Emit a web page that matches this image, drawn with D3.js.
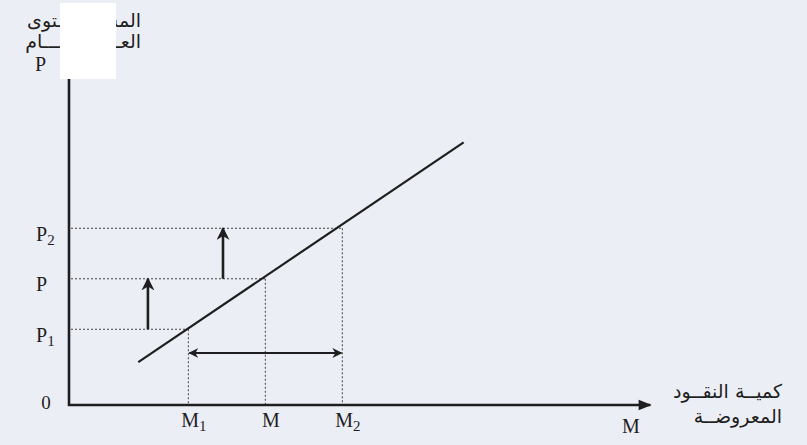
<!DOCTYPE html>
<html>
<head>
<meta charset="utf-8">
<script src="https://cdn.jsdelivr.net/npm/d3@7"></script>
<style>
  body { margin: 0; background: #eceef5; }
  svg { display: block; }
</style>
</head>
<body>
<svg id="drawing_region"></svg>
<script>
// values (abstract units)
const priceLabels = ['P1', 'P', 'P2'];
const priceValues = [1.5, 2.5, 3.5];
const moneyLabels = ['M1', 'M', 'M2'];
const moneyValues = [3.1, 5.1, 7.1];
const supplyLine = [[1.8, 0.85], [10.25, 5.2]];
const priceArrows = [[2.05, 1.5, 2.5], [4.0, 2.5, 3.5]];   // x, from, to
const moneyArrow = [1.03, 3.1, 7.1];                        // y, from, to
const yTitle = ['المســــــــتوى', 'العــــــــــــــام'];
const xTitle = ['كميــة النقــود', 'المعروضــة'];

const width = 807, height = 445;
const svg = d3.select('#drawing_region')
    .attr('width', width)
    .attr('height', height);

const xscale = d3.scaleLinear().domain([0, 15]).range([69, 646.5]);
const yscale = d3.scaleLinear().domain([0, 6.7]).range([405, 66.7]);

const defs = svg.append('defs');
defs.append('marker')
    .attr('id', 'head')
    .attr('viewBox', '0 0 10 10')
    .attr('refX', 9).attr('refY', 5)
    .attr('markerWidth', 5).attr('markerHeight', 5)
    .attr('markerUnits', 'strokeWidth')
    .attr('orient', 'auto-start-reverse')
    .append('path')
    .attr('d', 'M0,0 L10,5 L0,10 L3,5 Z')
    .attr('fill', '#1e1e1e');
defs.append('marker')
    .attr('id', 'axishead')
    .attr('viewBox', '0 0 10 10')
    .attr('refX', 9).attr('refY', 5)
    .attr('markerWidth', 7).attr('markerHeight', 5)
    .attr('orient', 'auto')
    .append('path')
    .attr('d', 'M0,1 L10,5 L0,9 Z')
    .attr('fill', '#1e1e1e');

// dotted guides
const guides = svg.append('g')
    .attr('stroke', '#444')
    .attr('stroke-width', 1)
    .attr('stroke-dasharray', '2,2');
priceValues.forEach((p, i) => {
    guides.append('line')
        .attr('x1', xscale(0) + 2).attr('x2', xscale(moneyValues[i]))
        .attr('y1', yscale(p)).attr('y2', yscale(p));
    guides.append('line')
        .attr('x1', xscale(moneyValues[i])).attr('x2', xscale(moneyValues[i]))
        .attr('y1', yscale(p)).attr('y2', yscale(0));
});

// supply line
svg.append('path')
    .datum(supplyLine)
    .attr('d', d3.line().x(d => xscale(d[0])).y(d => yscale(d[1])))
    .attr('stroke', '#1e1e1e')
    .attr('stroke-width', 2.2)
    .attr('fill', 'none');

// price arrows
svg.selectAll('.parrow')
    .data(priceArrows)
    .join('line')
    .attr('class', 'parrow')
    .attr('x1', d => xscale(d[0])).attr('x2', d => xscale(d[0]))
    .attr('y1', d => yscale(d[1])).attr('y2', d => yscale(d[2]))
    .attr('stroke', '#1e1e1e')
    .attr('stroke-width', 2.6)
    .attr('marker-end', 'url(#head)');

// money arrow (both ends)
svg.append('line')
    .attr('x1', xscale(moneyArrow[1]) + 1).attr('x2', xscale(moneyArrow[2]) - 1)
    .attr('y1', yscale(moneyArrow[0])).attr('y2', yscale(moneyArrow[0]))
    .attr('stroke', '#1e1e1e')
    .attr('stroke-width', 2)
    .attr('marker-start', 'url(#head)')
    .attr('marker-end', 'url(#head)');

// axes
svg.append('line')
    .attr('x1', xscale(0)).attr('x2', xscale(0))
    .attr('y1', yscale(0) + 1).attr('y2', yscale(6.9))
    .attr('stroke', '#1e1e1e').attr('stroke-width', 2.6)
    .attr('marker-end', 'url(#axishead)');
svg.append('line')
    .attr('x1', xscale(0) - 1).attr('x2', xscale(15.1))
    .attr('y1', yscale(0)).attr('y2', yscale(0))
    .attr('stroke', '#1e1e1e').attr('stroke-width', 2.6)
    .attr('marker-end', 'url(#axishead)');

const xaxis = d3.axisBottom(xscale)
    .tickValues(moneyValues)
    .tickSize(0)
    .tickPadding(8)
    .tickFormat((d, i) => moneyLabels[i]);
const yaxis = d3.axisLeft(yscale)
    .tickValues(priceValues)
    .tickSize(0)
    .tickPadding(0)
    .tickFormat((d, i) => priceLabels[i]);

const serif = '"Liberation Serif", "Times New Roman", serif';

const xg = svg.append('g')
    .attr('transform', `translate(0, ${yscale(0)})`)
    .call(xaxis);
xg.select('.domain').remove();
xg.selectAll('text')
    .attr('font-family', serif).attr('font-size', 20).attr('fill', '#1e1e1e')
    .attr('dx', 5)
    .each(function (d, i) { subscript(d3.select(this), moneyLabels[i]); });

const yg = svg.append('g')
    .attr('transform', 'translate(36, 0)')
    .call(yaxis);
yg.select('.domain').remove();
yg.selectAll('text')
    .attr('text-anchor', 'start')
    .attr('font-family', serif).attr('font-size', 20).attr('fill', '#1e1e1e')
    .attr('dy', '0.6em')
    .each(function (d, i) { subscript(d3.select(this), priceLabels[i]); });

function subscript(t, label) {
    t.text(null);
    t.append('tspan').text(label[0]);
    if (label.length > 1) {
        t.append('tspan').attr('font-size', 15).attr('dy', 4).text(label.slice(1));
    }
}

// origin and axis letters
svg.append('text')
    .attr('x', 46).attr('y', 409)
    .attr('text-anchor', 'middle')
    .attr('font-family', serif).attr('font-size', 19).attr('fill', '#1e1e1e')
    .text('0');
svg.append('text')
    .attr('x', 35).attr('y', 71)
    .attr('font-family', serif).attr('font-size', 20).attr('fill', '#1e1e1e')
    .text('P');
svg.append('text')
    .attr('x', 622).attr('y', 433)
    .attr('font-family', serif).attr('font-size', 20).attr('fill', '#1e1e1e')
    .text('M');

// arabic titles
const arabic = '"DejaVu Sans", sans-serif';
svg.selectAll('.ytitle')
    .data(yTitle)
    .join('text')
    .attr('class', 'ytitle')
    .attr('x', 141)
    .attr('y', (d, i) => 27 + i * 21)
    .attr('text-anchor', 'end')
    .attr('font-family', arabic).attr('font-size', 19).attr('fill', '#1e1e1e')
    .text(d => d);
svg.selectAll('.xtitle')
    .data(xTitle)
    .join('text')
    .attr('class', 'xtitle')
    .attr('x', 782)
    .attr('y', (d, i) => 398 + i * 25)
    .attr('text-anchor', 'end')
    .attr('font-family', arabic).attr('font-size', 19).attr('fill', '#1e1e1e')
    .text(d => d);

// white patch over the top-left corner
svg.append('rect')
    .attr('x', 60).attr('y', 3)
    .attr('width', 56).attr('height', 76)
    .attr('fill', '#ffffff');
</script>
</body>
</html>
